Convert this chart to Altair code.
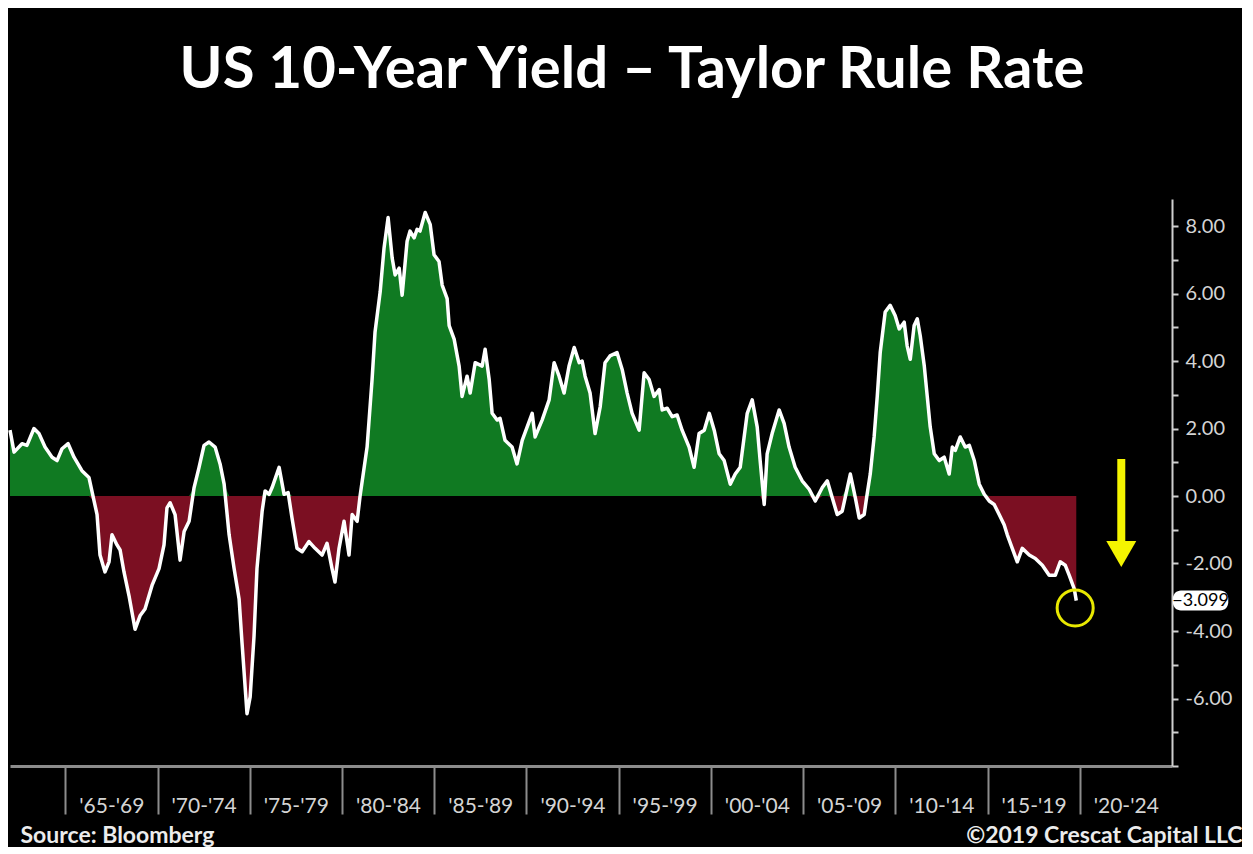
import altair as alt
import pandas as pd

# ---------------- data ----------------
YEARS = [
    1962.00, 1962.22, 1962.65, 1962.92, 1963.30, 1963.57, 1963.90, 1964.28, 1964.55, 1964.82,
    1965.15, 1965.47, 1965.90, 1966.28, 1966.56, 1966.72, 1966.88, 1967.15, 1967.37, 1967.53,
    1967.80, 1967.97, 1968.18, 1968.45, 1968.78, 1969.05, 1969.32, 1969.70, 1970.08, 1970.35,
    1970.51, 1970.68, 1970.95, 1971.22, 1971.44, 1971.71, 1971.98, 1972.25, 1972.52, 1972.79,
    1973.12, 1973.39, 1973.61, 1973.88, 1974.15, 1974.42, 1974.58, 1974.85, 1975.02, 1975.23,
    1975.39, 1975.67, 1975.83, 1976.05, 1976.21, 1976.59, 1976.86, 1977.08, 1977.29, 1977.56,
    1977.84, 1978.21, 1978.54, 1978.92, 1979.19, 1979.46, 1979.62, 1979.84, 1980.11, 1980.38,
    1980.55, 1980.82, 1980.98, 1981.36, 1981.63, 1981.79, 1982.07, 1982.28, 1982.50, 1982.72,
    1982.88, 1983.10, 1983.26, 1983.53, 1983.69, 1983.91, 1984.07, 1984.23, 1984.51, 1984.78,
    1984.99, 1985.26, 1985.43, 1985.70, 1985.81, 1986.08, 1986.35, 1986.51, 1986.78, 1986.95,
    1987.22, 1987.60, 1987.76, 1987.98, 1988.14, 1988.41, 1988.57, 1988.84, 1989.22, 1989.49,
    1989.77, 1990.04, 1990.31, 1990.47, 1990.85, 1991.23, 1991.50, 1991.77, 1992.04, 1992.31,
    1992.59, 1992.86, 1993.02, 1993.18, 1993.45, 1993.72, 1994.00, 1994.26, 1994.53, 1994.91,
    1995.19, 1995.46, 1995.73, 1996.11, 1996.38, 1996.65, 1996.92, 1997.20, 1997.36, 1997.63,
    1997.90, 1998.17, 1998.44, 1998.82, 1999.09, 1999.36, 1999.64, 1999.91, 2000.18, 2000.45,
    2000.72, 2001.05, 2001.32, 2001.59, 2001.97, 2002.24, 2002.51, 2002.67, 2002.89, 2003.05,
    2003.32, 2003.70, 2003.97, 2004.24, 2004.57, 2004.95, 2005.33, 2005.66, 2006.04, 2006.31,
    2006.58, 2006.85, 2007.12, 2007.40, 2007.56, 2007.83, 2008.04, 2008.31, 2008.47, 2008.64,
    2008.85, 2009.02, 2009.18, 2009.45, 2009.72, 2009.99, 2010.21, 2010.48, 2010.64, 2010.81,
    2011.02, 2011.19, 2011.35, 2011.57, 2011.73, 2011.89, 2012.11, 2012.38, 2012.65, 2012.92,
    2013.09, 2013.25, 2013.52, 2013.79, 2014.01, 2014.28, 2014.55, 2014.82, 2015.09, 2015.36,
    2015.63, 2015.90, 2016.07, 2016.34, 2016.61, 2016.88, 2017.26, 2017.59, 2017.97, 2018.34,
    2018.67, 2018.94, 2019.21, 2019.43, 2019.70, 2019.81,
]
VALUES = [
    1.95, 1.30, 1.55, 1.50, 2.00, 1.85, 1.45, 1.15, 1.05, 1.40,
    1.55, 1.15, 0.75, 0.55, -0.15, -0.55, -1.75, -2.25, -1.95, -1.15,
    -1.45, -1.60, -2.25, -2.95, -3.95, -3.55, -3.35, -2.65, -2.15, -1.45,
    -0.35, -0.20, -0.55, -1.90, -1.05, -0.75, 0.25, 0.85, 1.50, 1.60,
    1.45, 0.95, 0.35, -1.15, -2.15, -3.05, -4.35, -6.45, -5.95, -4.15,
    -2.15, -0.45, 0.15, 0.05, 0.25, 0.85, 0.05, 0.10, -0.65, -1.55,
    -1.65, -1.35, -1.55, -1.75, -1.40, -2.15, -2.55, -1.55, -0.75, -1.75,
    -0.55, -0.75, 0.00, 1.45, 3.45, 4.85, 6.05, 7.35, 8.25, 7.05,
    6.55, 6.75, 5.95, 7.55, 7.85, 7.65, 7.90, 7.85, 8.40, 8.05,
    7.15, 6.95, 6.25, 5.85, 5.05, 4.65, 3.85, 2.95, 3.55, 3.05,
    3.95, 3.85, 4.35, 3.45, 2.45, 2.25, 2.30, 1.65, 1.45, 0.95,
    1.65, 2.05, 2.45, 1.75, 2.25, 2.85, 3.95, 3.55, 3.05, 3.85,
    4.40, 3.95, 4.00, 3.55, 3.05, 1.85, 2.65, 3.95, 4.15, 4.25,
    3.75, 3.05, 2.45, 1.95, 3.65, 3.45, 2.95, 3.15, 2.55, 2.60,
    2.35, 2.40, 1.95, 1.45, 0.85, 1.85, 1.95, 2.45, 1.95, 1.25,
    1.05, 0.35, 0.65, 0.85, 2.45, 2.85, 2.05, 1.05, -0.25, 1.25,
    1.85, 2.55, 2.15, 1.45, 0.85, 0.45, 0.20, -0.15, 0.25, 0.45,
    -0.05, -0.55, -0.45, 0.25, 0.65, -0.05, -0.65, -0.55, 0.05, 0.65,
    1.75, 2.95, 4.25, 5.45, 5.65, 5.35, 4.95, 5.15, 4.45, 4.05,
    5.05, 5.25, 4.75, 3.85, 2.95, 2.05, 1.25, 1.05, 1.15, 0.65,
    1.45, 1.35, 1.75, 1.45, 1.50, 1.05, 0.35, 0.05, -0.15, -0.25,
    -0.55, -0.85, -1.15, -1.55, -1.95, -1.55, -1.75, -1.85, -2.05, -2.35,
    -2.35, -1.95, -2.05, -2.35, -2.75, -3.099,
]

PERIOD_STARTS = [1965, 1970, 1975, 1980, 1985, 1990, 1995, 2000, 2005, 2010, 2015, 2020]
PERIOD_LABELS = ["'65-'69", "'70-'74", "'75-'79", "'80-'84", "'85-'89", "'90-'94",
                 "'95-'99", "'00-'04", "'05-'09", "'10-'14", "'15-'19", "'20-'24"]
Y_TICKS = list(range(-8, 9))

TITLE = "US 10-Year Yield \u2013 Taylor Rule Rate"
SOURCE = "Source: Bloomberg"
CREDIT = "\u00a92019 Crescat Capital LLC"

LAST_VALUE = VALUES[-1]
CALLOUT_X = [2025.05, 2028.05]        # callout box span (years)
ARROW_YEAR = 2022.25
ARROW_SHAFT = [1.1, -1.4]
ARROW_HEAD = -1.72
CIRCLE_YEAR = 2019.75
CIRCLE_VALUE = -3.32

# ---------------- frames ----------------
df = pd.DataFrame({"year": YEARS, "value": VALUES})
df["pos"] = df["value"].clip(lower=0)
df["neg"] = df["value"].clip(upper=0)
df["zero"] = 0.0

callout = pd.DataFrame({"x0": [CALLOUT_X[0]], "x1": [CALLOUT_X[1]],
                        "xm": [(CALLOUT_X[0] + CALLOUT_X[1]) / 2], "v": [LAST_VALUE]})
arrow = pd.DataFrame({"year": [ARROW_YEAR], "top": [ARROW_SHAFT[0]],
                      "bot": [ARROW_SHAFT[1]], "head": [ARROW_HEAD]})
circle = pd.DataFrame({"year": [CIRCLE_YEAR], "value": [CIRCLE_VALUE]})

# ---------------- scales / axes ----------------
FONT = "Lato"
x_label_expr = "".join(f'datum.value == {s} ? "{l}" : ' for s, l in zip(PERIOD_STARTS, PERIOD_LABELS)) + "''"

XSCALE = alt.Scale(domain=[1962, 2025], nice=False, zero=False)
XAXIS = alt.Axis(
    values=PERIOD_STARTS, labelExpr=x_label_expr, labelOffset=46, labelPadding=-8,
    labelBaseline="middle", labelFont=FONT, labelFontSize=21, labelColor="#d4d4d4",
    labelOverlap=False, labelFlush=False, tickSize=48, tickWidth=2, tickColor="#8c8c8c",
    domainColor="#8c8c8c", domainWidth=3, grid=False,
    title=SOURCE, titleFont=FONT, titleFontSize=23, titleFontWeight="bold",
    titleColor="#ececec", titleAnchor="start", titleAlign="left", titleBaseline="middle",
    titleX=10, titleY=69,
)
YSCALE = alt.Scale(domain=[-8, 8.8], nice=False, zero=False)
y_label_expr = "datum.value % 2 == 0 && datum.value > -8 ? replace(format(datum.value, '.2f'), '\u2212', '-') : ''"
YAXIS = alt.Axis(
    orient="right", values=Y_TICKS, labelExpr=y_label_expr, labelFont=FONT,
    labelFontSize=20, labelColor="#d4d4d4", labelAlign="left", labelBaseline="middle",
    labelPadding=7, labelOverlap=False, labelFlush=False, tickSize=6, tickWidth=2,
    tickColor="#cfcfcf", domainColor="#cfcfcf", domainWidth=2, grid=False,
    title=CREDIT, titleFont=FONT, titleFontSize=23, titleFontWeight="bold",
    titleColor="#ececec", titleAngle=0, titleAlign="right", titleBaseline="middle",
    titleX=70, titleY=567 + 69,
)


def X(field):
    return alt.X(f"{field}:Q", scale=XSCALE, axis=XAXIS)


def Y(field):
    return alt.Y(f"{field}:Q", scale=YSCALE, axis=YAXIS)


base = alt.Chart(df)
green = base.mark_area(color="#107a22", opacity=1).encode(x=X("year"), y=Y("pos"), y2="zero:Q")
red = base.mark_area(color="#7b0f22", opacity=1).encode(x=X("year"), y=Y("neg"), y2="zero:Q")
line = base.mark_line(color="white", strokeWidth=3.5, strokeJoin="round").encode(x=X("year"), y=Y("value"))

shaft = alt.Chart(arrow).mark_rule(color="#f4f400", strokeWidth=8).encode(
    x=X("year"), y=Y("top"), y2="bot:Q")
head = alt.Chart(arrow).mark_point(shape="triangle-down", filled=True, color="#f4f400",
                                   size=900, opacity=1).encode(x=X("year"), y=Y("head"))
ring = alt.Chart(circle).mark_point(shape="circle", filled=False, color="#e8e800",
                                    strokeWidth=3, size=1300, opacity=1).encode(
    x=X("year"), y=Y("value"))
box = alt.Chart(callout).mark_rect(color="white", cornerRadius=8, yOffset=-10, y2Offset=10).encode(
    x=X("x0"), x2="x1:Q", y=Y("v"), y2="v:Q")
box_text = alt.Chart(callout).mark_text(font=FONT, fontSize=18, color="black",
                                        align="center", baseline="middle").encode(
    x=X("xm"), y=Y("v"), text=alt.Text("v:Q", format=".3f"))

chart = alt.layer(green, red, line, shaft, head, ring, box, box_text).properties(
    width=1162, height=567,
    padding={"top": 34, "left": 0, "right": 0, "bottom": 0},
    background="#000000",
    title=alt.TitleParams(text=TITLE, font=FONT, fontSize=58, fontWeight="bold",
                          color="white", anchor="middle", frame="group", dx=41,
                          baseline="alphabetic", offset=53),
).configure_view(strokeWidth=0)

chart.save("out.html", embed_options={"renderer": "svg", "actions": False})
